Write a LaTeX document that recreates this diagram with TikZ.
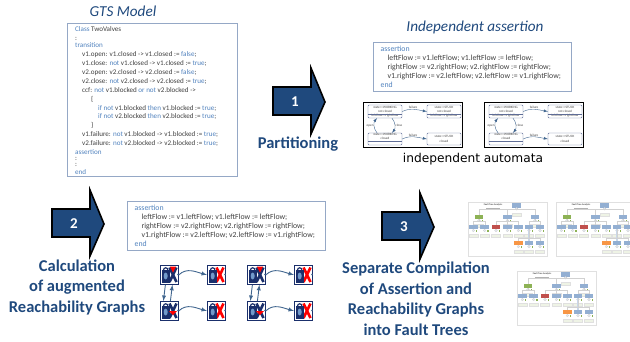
\documentclass[tikz,border=0pt]{standalone}
\usepackage{fontspec}
\setmainfont{Carlito}
\newfontfamily\autofont{DejaVu Sans}
\definecolor{darkblue}{HTML}{1F497D}
\definecolor{kwblue}{HTML}{4F81BD}
\definecolor{codegray}{HTML}{404040}
\definecolor{boxblue}{HTML}{95A8C6}
\definecolor{navycell}{HTML}{1A2F6B}
\definecolor{edgeblue}{HTML}{41668F}
\definecolor{ftblue}{HTML}{93AFD2}
\definecolor{ftgreen}{HTML}{8DB255}
\definecolor{ftred}{HTML}{C0504D}
\definecolor{ftorange}{HTML}{F79646}
\newcommand{\kw}[1]{\textcolor{kwblue}{#1}}
\tikzset{
  title/.style={font=\fontsize{15.2}{17}\selectfont\itshape, text=darkblue},
  caption/.style={font=\fontsize{16.5}{20.5}\selectfont\bfseries, text=darkblue, align=center},
  codebox/.style={draw=boxblue, line width=0.9pt, anchor=north west, inner sep=0pt},
  code/.style={anchor=north west, align=left, inner sep=0pt, text=codegray, font=\fontsize{7.1}{8.9}\selectfont},
  assertcode/.style={code, font=\fontsize{7.8}{9}\selectfont},
  blockarrow/.style={draw=black, line width=1.6pt, fill=darkblue, miter limit=10},
  number/.style={text=white, font=\fontsize{15}{15}\selectfont\bfseries},
  autobox/.style={draw=black, line width=1pt, minimum width=99pt, minimum height=45pt, anchor=north west},
  autostate/.style={draw=navycell!70, line width=0.4pt, rounded corners=1pt, minimum width=34pt, inner sep=0pt, align=center, text=codegray, font=\fontsize{3.3}{4.2}\selectfont},
  autoedge/.style={-latex, draw=edgeblue, line width=0.4pt},
  autolabel/.style={inner sep=0.5pt, text=codegray, font=\fontsize{3.3}{4}\selectfont},
  cell/.style={draw=navycell, line width=0.8pt, fill=white, minimum width=18pt, minimum height=19pt, inner sep=0pt, anchor=north west},
  cellarrow/.style={-latex, draw=edgeblue, line width=0.9pt},
  ftsheet/.style={draw=black!12, line width=0.5pt, fill=white, minimum width=79pt, minimum height=54pt, anchor=north west},
  ftbox/.style={minimum width=8.5pt, minimum height=4.5pt, inner sep=0pt},
  ftline/.style={draw=black!18, line width=0.3pt},
}
\begin{document}
\begin{tikzpicture}[x=1pt,y=-1pt]
\useasboundingbox (0,0) rectangle (630,341);

\node[title] (gtstitle) at (123,11) {GTS Model};
\node[codebox, minimum width=170pt, minimum height=153pt] (gtsbox) at (67,23) {};
\node[code] (gtscode) at (75,26.5) {%
\kw{Class} TwoValves\\
:\\[-2pt]
\kw{transition}\\[0.3pt]
\hspace*{7pt}v1.open: v1.closed -> v1.closed := \kw{false};\\
\hspace*{7pt}v1.close: \kw{not} v1.closed -> v1.closed := \kw{true};\\
\hspace*{7pt}v2.open: v2.closed -> v2.closed := \kw{false};\\
\hspace*{7pt}v2.close: \kw{not} v2.closed -> v2.closed := \kw{true};\\
\hspace*{7pt}ccf: \kw{not} v1.blocked \kw{or} \kw{not} v2.blocked ->\\
\hspace*{16pt}\{\\
\hspace*{23pt}\kw{if} \kw{not} v1.blocked \kw{then} v1.blocked := \kw{true};\\
\hspace*{23pt}\kw{if} \kw{not} v2.blocked \kw{then} v2.blocked := \kw{true};\\
\hspace*{16pt}\}\\
\hspace*{7pt}v1.failure: \kw{not} v1.blocked -> v1.blocked := \kw{true};\\
\hspace*{7pt}v2.failure: \kw{not} v2.blocked -> v2.blocked := \kw{true};\\
\kw{assertion}\\[-3pt]
:\\[-3pt]
:\\[-1pt]
\kw{end}};

\node[title] (indtitle) at (475,27) {Independent assertion};

\foreach \ax/\ay in {373/42,127/201} {
  \begin{scope}[xshift=\ax pt,yshift=-\ay pt]
    \node[codebox, minimum width=198pt, minimum height=49pt] (assertbox) at (0,0) {};
    \node[assertcode] (assertlines) at (7.5,3.8) {%
\kw{assertion}\\
\hspace*{7pt}leftFlow := v1.leftFlow; v1.leftFlow := leftFlow;\\
\hspace*{7pt}rightFlow := v2.rightFlow; v2.rightFlow := rightFlow;\\
\hspace*{7pt}v1.rightFlow := v2.leftFlow; v2.leftFlow := v1.rightFlow;\\
\kw{end}};
  \end{scope}
}

\foreach \ax in {363,484} {
  \begin{scope}[xshift=\ax pt,yshift=-102pt]
    \node[autobox] (autoframe) at (0,0) {};
    \node[autostate, minimum height=13pt] (wn) at (22,9.5) {state==WORKING\\not closed\\leftFlow==rightFlow};
    \node[autostate, minimum height=13pt] (sn) at (81,9.5) {state==STUCK\\not closed\\leftFlow==rightFlow};
    \node[autostate, minimum height=12pt] (wc) at (22,37) {state==WORKING\\closed\\\strut};
    \node[autostate, minimum height=12pt] (sc) at (81,37) {state==STUCK\\closed};
    \draw[navycell!70, line width=0.3pt] (wn.west |- 0,12) -- (wn.east |- 0,12);
    \draw[navycell!70, line width=0.3pt] (sn.west |- 0,12) -- (sn.east |- 0,12);
    \draw[navycell!70, line width=0.3pt] (wc.west |- 0,39) -- (wc.east |- 0,39);
    \draw[autoedge] (wn.east) to [out=25,in=170] node[autolabel, above, pos=0.45] {failure} (sn.west);
    \draw[autoedge] (wc.east) to [out=25,in=170] node[autolabel, above, pos=0.45] {failure} (sc.west);
    \draw[autoedge] ([xshift=-8pt]wc.north) to [out=130,in=230] node[autolabel, left] {open} ([xshift=-8pt]wn.south);
    \draw[autoedge] ([xshift=7pt]wn.south) to [out=-50,in=50] node[autolabel, right] {close} ([xshift=7pt]wc.north);
  \end{scope}
}

\node[font=\autofont\fontsize{12.2}{14}\selectfont, text=black] (autocaption) at (473,159) {independent automata};

\foreach \sx/\sy/\num in {273/87/1,52/209/2,382/212/3} {
  \begin{scope}[xshift=\sx pt,yshift=-\sy pt]
    \draw[blockarrow] (0,0) -- (38,0) -- (38,-19) -- (52,15) -- (38,47) -- (38,28) -- (0,28) -- cycle;
    \node[number] (arrownum) at (22,15) {\num};
  \end{scope}
}

\node[caption] (partlabel) at (298,144) {Partitioning};
\node[caption] (calclabel) at (77,287) {Calculation\\of augmented\\Reachability Graphs};
\node[caption] (complabel) at (416,299) {Separate Compilation\\of Assertion and\\Reachability Graphs\\into Fault Trees};

\foreach \gx in {160,247} {
  \begin{scope}[xshift=\gx pt,yshift=-265pt]
    \foreach \cn/\cx/\cy/\xc in {tl/0/0/navycell,tr/47/0/red,bl/0/36/navycell,br/47/36/red} {
      \node[cell] (\cn) at (\cx,\cy) {};
      \begin{scope}[xshift=\cx pt,yshift=-\cy pt]
        \draw[\xc, line width=2.6pt] (9.5,2.5) -- (16.5,17);
        \draw[\xc, line width=2.6pt] (16.5,2.5) -- (9.5,17);
        \fill[navycell] (1.5,5) rectangle (10,17.5);
        \draw[navycell, line width=1.2pt] (3.5,5) arc (180:360:2.2);
        \fill[kwblue!80] (5.7,11) ellipse (2 and 3.5);
        \fill[edgeblue] (18,9.5) circle (0.9);
      \end{scope}
    }
    \fill[red] (10,1.5) -- (16,1.5) -- (13,7.5) -- cycle;
    \fill[red] (9,46) -- (17,46) -- (13,50) -- cycle;
    \draw[cellarrow] (tl.east) to [out=45,in=165] (tr.west);
    \draw[cellarrow] (bl.east) to [out=45,in=165] (br.west);
    \draw[cellarrow] ([xshift=-4pt]tl.south) -- ([xshift=-6pt]bl.north);
    \draw[cellarrow] ([xshift=1pt]bl.north) -- ([xshift=3pt]tl.south);
  \end{scope}
}

\begin{scope}
\clip (0,0) rectangle (630,341);
\foreach \tx/\ty in {468/202,556/202,517/271} {
  \begin{scope}[xshift=\tx pt,yshift=-\ty pt]
    \node[ftsheet] (ftsheet) at (0,0) {};
    \node[inner sep=0pt, text=black!70, font=\fontsize{2.4}{3}\selectfont\bfseries] (fttitle) at (25,3.2) {Fault Tree Analysis};
    \draw[black!30, line width=0.4pt] (18,5.8) -- (32,5.8);
    \foreach \tn/\nx/\ny/\nc in {top/48.7/3.3/ftblue,a/11/15/ftgreen,b/39.3/15/ftblue,c/67/15/ftblue,
      d/5.3/25/ftblue,e/16.7/25/ftblue,f/28/25/ftred,g/39.3/25/ftblue,h/50.3/25/ftblue,i/61/25/ftblue,j/72/25/ftblue,
      k/50.3/41/ftorange,l/61/41/ftblue,m/72/41/ftblue} {
      \node[ftbox, fill=\nc] (\tn) at (\nx,\ny) {};
      \draw[ftline, fill=ftblue!25] (\nx,\ny+3.5) circle (1.3);
      \draw[ftline, draw=black!12, fill=ftgreen!15] (\nx-4.5,\ny+7.5) rectangle (\nx+4.5,\ny+10.5);
      \fill[ftgreen] (\nx+2.5,\ny+3.2) rectangle (\nx+4,\ny+4.7);
    }
    \foreach \pa/\ch in {top/a,top/b,top/c,a/d,a/e,b/f,b/g,b/h,c/i,c/j} {
      \draw[ftline] (\pa.south) -- ++(0,1.5) -| (\ch.north);
    }
    \draw[ftblue!50, line width=1.4pt] (i.south) -- (l.north);
    \draw[ftline] (i.south) -- ++(0,9) -| (k.north);
    \draw[ftline] (i.south) -- ++(0,9) -| (m.north);
  \end{scope}
}
\end{scope}

\end{tikzpicture}
\end{document}
